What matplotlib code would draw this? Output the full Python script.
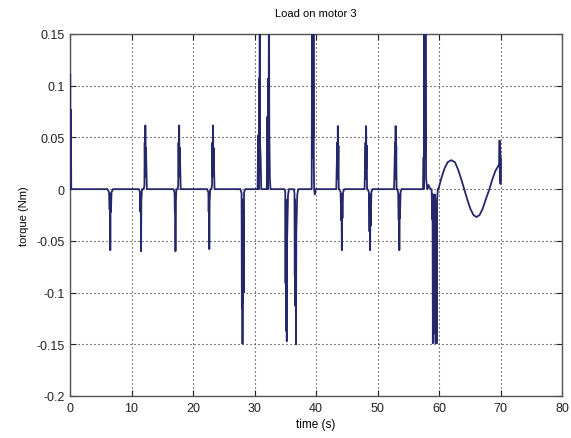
import matplotlib.pyplot as plt

# torque trace, vertices (s, Nm); values > 0.15 are clipped by the axes
time_s = [
    0.0, 0.03, 0.06, 0.09, 0.12, 0.15, 0.2, 0.3,
    6.1, 6.35, 6.45, 6.5, 6.55, 6.6, 6.65, 6.75, 7.0,
    11.2, 11.4, 11.45, 11.5, 11.55, 11.6, 11.7, 12.0, 12.1, 12.15, 12.2, 12.25, 12.3, 12.35, 12.5,
    16.8, 17.0, 17.05, 17.1, 17.15, 17.2, 17.3, 17.5, 17.6, 17.65, 17.7, 17.75, 17.8, 17.85, 18.0,
    22.3, 22.5, 22.55, 22.6, 22.65, 22.7, 22.8, 23.0, 23.1, 23.15, 23.2, 23.25, 23.3, 23.35, 23.5,
    27.7, 27.9, 27.95, 28.0, 28.05, 28.1, 28.15, 28.2, 28.25, 28.3, 28.5,
    30.5, 30.6, 30.7, 30.75, 30.8, 30.85, 30.9, 31.0, 31.1, 31.2,
    32.0, 32.1, 32.2, 32.25, 32.3, 32.35, 32.4, 32.5, 32.6,
    34.9, 35.0, 35.05, 35.1, 35.15, 35.2, 35.25, 35.3, 35.45, 35.6,
    36.4, 36.5, 36.55, 36.6, 36.65, 36.7, 36.75, 36.8, 36.95, 37.1,
    39.3, 39.4, 39.45, 39.5, 39.55, 39.6, 39.65, 39.7, 39.8, 39.9, 40.1,
    43.3, 43.45, 43.5, 43.55, 43.6, 43.65, 43.7, 43.8, 44.0, 44.1, 44.15, 44.2, 44.25, 44.3, 44.4, 44.6,
    47.9, 48.05, 48.1, 48.15, 48.2, 48.25, 48.3, 48.4, 48.6, 48.7, 48.75, 48.8, 48.85, 48.9, 49.0, 49.2,
    52.7, 52.85, 52.9, 52.95, 53.0, 53.05, 53.1, 53.2, 53.35, 53.45, 53.5, 53.55, 53.6, 53.65, 53.75, 53.9,
    57.4, 57.5, 57.55, 57.6, 57.65, 57.7, 57.75, 57.8, 57.9, 58.1, 58.3, 58.6,
    58.8, 58.9, 58.95, 59.0, 59.05, 59.1, 59.15, 59.2, 59.3,
    59.4, 59.45, 59.5, 59.55, 59.6, 59.65, 59.7, 59.8,
    59.9, 60.4, 60.9, 61.4, 62.0, 62.6, 63.1, 63.6, 64.1, 64.6, 65.1, 65.6, 66.1,
    66.6, 67.1, 67.6, 68.2, 68.7, 69.2, 69.7,
    69.8, 69.85, 69.9, 69.95, 70.0, 70.05,
]
torque_nm = [
    0.0, 0.111, 0.03, 0.077, 0.01, 0.07, 0.0, 0.0,
    0.0, -0.003, -0.02, -0.004, -0.059, -0.01, -0.022, -0.003, 0.0,
    0.0, -0.003, -0.022, -0.004, -0.06, -0.012, 0.0, 0.0, 0.004, 0.045, 0.012, 0.0616, 0.02, 0.04, 0.0,
    0.0, -0.003, -0.022, -0.004, -0.06, -0.012, 0.0, 0.0, 0.004, 0.045, 0.012, 0.0616, 0.02, 0.04, 0.0,
    0.0, -0.003, -0.022, -0.004, -0.058, -0.012, 0.0, 0.0, 0.004, 0.045, 0.012, 0.0616, 0.02, 0.04, 0.0,
    0.0, -0.004, -0.115, -0.01, -0.1495, -0.05, -0.11, -0.02, -0.1, -0.003, 0.0,
    0.0, 0.052, 0.0, 0.107, 0.02, 0.25, 0.045, 0.03, 0.0, 0.0,
    0.0, 0.07, 0.0, 0.107, 0.03, 0.25, 0.06, 0.01, 0.0,
    0.0, -0.003, -0.091, -0.01, -0.137, -0.02, -0.147, -0.05, -0.006, 0.0,
    0.0, -0.004, -0.083, -0.01, -0.113, -0.03, -0.15, -0.04, -0.006, 0.0,
    0.0, 0.25, 0.03, 0.25, 0.05, 0.25, 0.02, 0.0, -0.005, 0.0, 0.0,
    0.0, 0.045, 0.01, 0.061, 0.02, 0.042, 0.0, 0.0, -0.003, -0.03, -0.005, -0.059, -0.015, -0.028, -0.003, 0.0,
    0.0, 0.045, 0.01, 0.061, 0.02, 0.042, 0.0, 0.0, -0.003, -0.041, -0.005, -0.059, -0.015, -0.035, -0.003, 0.0,
    0.0, 0.045, 0.01, 0.061, 0.02, 0.042, 0.0, 0.0, -0.003, -0.03, -0.005, -0.059, -0.015, -0.028, -0.003, 0.0,
    0.0, 0.031, 0.0, 0.25, 0.03, 0.25, 0.035, 0.25, 0.01, 0.0, 0.004, 0.0,
    0.0, -0.029, -0.005, -0.149, -0.02, -0.14, -0.01, -0.02, -0.005,
    -0.01, -0.149, -0.03, -0.141, -0.02, -0.149, -0.01, 0.0,
    0.0, 0.011, 0.020, 0.026, 0.028, 0.026, 0.019, 0.010, 0.0, -0.010, -0.019, -0.025, -0.027,
    -0.025, -0.019, -0.010, 0.0, 0.010, 0.018, 0.023,
    0.025, 0.047, 0.008, 0.04, 0.005, 0.03,
]

x_ticks = [0, 10, 20, 30, 40, 50, 60, 70, 80]
y_ticks = [-0.2, -0.15, -0.1, -0.05, 0, 0.05, 0.1, 0.15]
y_tick_labels = ['-0.2', '-0.15', '-0.1', '-0.05', '0', '0.05', '0.1', '0.15']

plt.rcParams['font.family'] = ['Liberation Sans', 'DejaVu Sans']

fig = plt.figure(figsize=(5.71, 4.39), dpi=100)
ax = fig.add_axes([70 / 571, 1 - 397 / 439, 492 / 571, 362 / 439])

# drawn above the spines, like the original
ax.plot(time_s, torque_nm, color='#26266a', linewidth=1.3, zorder=3)

ax.set_xlim(0, 80)
ax.set_ylim(-0.2, 0.15)
ax.set_xticks(x_ticks)
ax.set_xticklabels([str(t) for t in x_ticks])
ax.set_yticks(y_ticks)
ax.set_yticklabels(y_tick_labels)

ax.grid(True, color='#222222', linestyle=(0, (1, 2.6)), linewidth=0.8)
ax.tick_params(direction='in', length=4, width=0.8, top=True, right=True,
               labelsize=9, colors='#222222', pad=4)
for s in ax.spines.values():
    s.set_color('#555555')
    s.set_linewidth(1.0)

ax.set_title('Load on motor 3', fontsize=8, pad=13)
ax.set_xlabel('time (s)', fontsize=8.5, labelpad=3)
ax.set_ylabel('torque (Nm)', fontsize=8, labelpad=5)

fig.savefig('out.png', dpi=100)
